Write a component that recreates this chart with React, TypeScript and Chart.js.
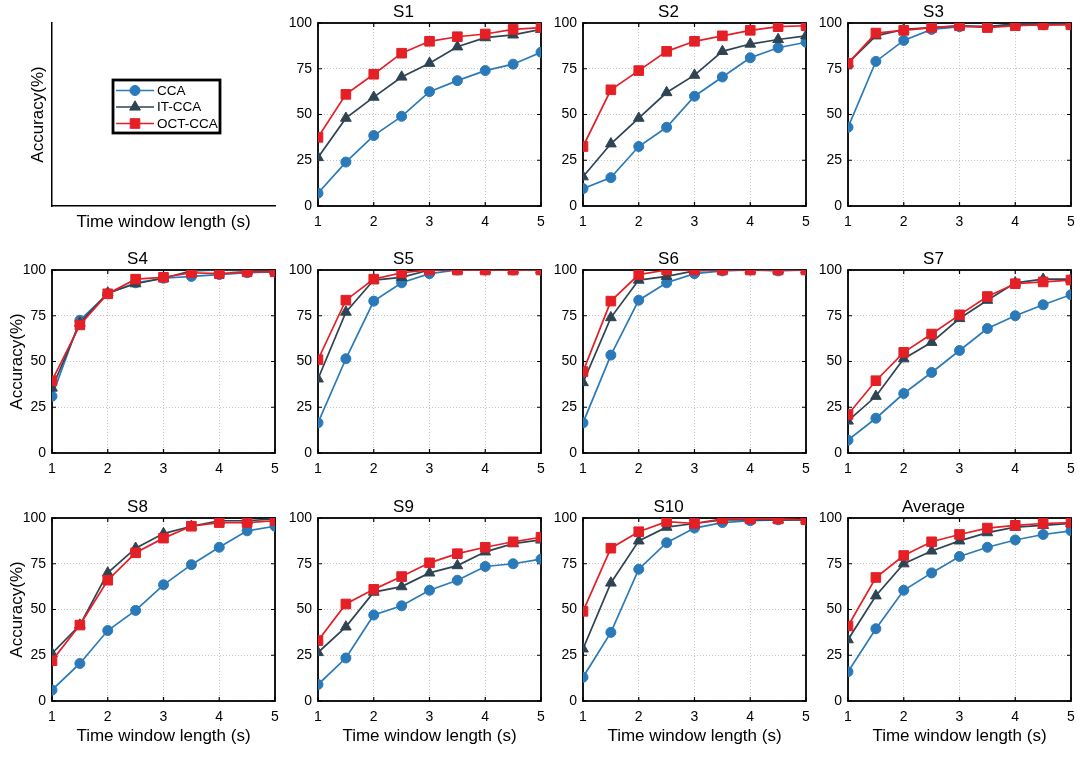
import React, { useEffect, useRef } from "react";
import { Chart, registerables } from "chart.js";
import { drawPoint } from "chart.js/helpers";

Chart.register(...registerables);
Chart.defaults.font.family = '"Liberation Sans", Arial, Helvetica, sans-serif';
Chart.defaults.color = "#000";

// time window lengths (s) and axis ticks
const windowLengths = [1, 1.5, 2, 2.5, 3, 3.5, 4, 4.5, 5];
const xTicks = [1, 2, 3, 4, 5];
const yTicks = [0, 25, 50, 75, 100];
const methods = ["CCA", "IT-CCA", "OCT-CCA"];

// accuracy (%) per subject and method
const s1Cca = [7, 24, 38.5, 49, 62.5, 68.5, 74, 77.5, 84];
const s1It = [26.5, 48, 59.5, 70.5, 78, 87, 92, 93.5, 96.5];
const s1Oct = [37.5, 61, 72, 83.5, 90, 92.5, 94, 96.5, 97.5];

const s2Cca = [9.5, 15.5, 32.5, 43, 60, 70.5, 81, 86.5, 89.5];
const s2It = [16, 34, 48, 62, 71.5, 84.5, 88.5, 91, 93];
const s2Oct = [32.5, 63.5, 74, 84.5, 90, 93, 96, 98, 98.5];

const s3Cca = [43, 79, 90.5, 96.5, 98, 98, 99, 99, 99.5];
const s3It = [78, 93, 96.5, 97.5, 98.5, 98, 99.5, 99.5, 99.5];
const s3Oct = [78, 94.5, 96, 97.5, 98.5, 97.5, 98.5, 99, 99];

const s4Cca = [31, 72.5, 87, 93, 95.5, 96.5, 97.5, 98.5, 99];
const s4It = [35.5, 71, 87.5, 92.5, 95.5, 99.5, 100, 99.5, 99.5];
const s4Oct = [39.5, 70, 87, 95, 96, 98.5, 98, 99, 99];

const s5Cca = [16.5, 51.5, 83, 93, 98, 100, 100, 100, 100];
const s5It = [40.5, 77, 94.5, 96, 100, 100, 100, 100, 100];
const s5Oct = [51, 83.5, 95, 98.5, 100, 100, 100, 100, 100];

const s6Cca = [16.5, 53.5, 83.5, 93, 98, 99.5, 100, 99.5, 100];
const s6It = [38.5, 74, 94.5, 96.5, 99.5, 100, 100, 100, 100];
const s6Oct = [44.5, 83, 97.5, 100, 100, 100, 100, 100, 100];

const s7Cca = [7, 19, 32.5, 44, 56, 68, 75, 81, 86.5];
const s7It = [17.5, 31, 51.5, 60.5, 73.5, 83.5, 93, 95, 95];
const s7Oct = [21, 39.5, 55, 65, 75.5, 85.5, 92.5, 93.5, 94.5];

const s8Cca = [6, 20.5, 38.5, 49.5, 63.5, 74.5, 84, 93, 95.5];
const s8It = [26, 41.5, 70, 83.5, 91.5, 95.5, 98.5, 98.5, 99.5];
const s8Oct = [22, 41.5, 66, 81, 89, 95.5, 97.5, 97.5, 98.5];

const s9Cca = [9, 23.5, 47, 52, 60.5, 66, 73.5, 75, 77.5];
const s9It = [26.5, 40.5, 59.5, 62.5, 70, 74, 81.5, 86, 88];
const s9Oct = [33, 53, 61, 68, 75.5, 80.5, 84, 87, 89.5];

const s10Cca = [13, 37.5, 72, 86.5, 94.5, 97.5, 98.5, 99, 99];
const s10It = [28.5, 64.5, 87.5, 95, 97, 99, 99, 99, 99];
const s10Oct = [49, 83.5, 92.5, 98, 97, 99.5, 99.5, 99.5, 99];

const avgCca = [16, 39.5, 60.5, 70, 79, 84, 88, 91, 93];
const avgIt = [33.5, 57.5, 75, 82, 87.5, 92, 95, 96, 97];
const avgOct = [41, 67.5, 79.5, 87, 91, 94.5, 96, 97, 97.5];

const colors = ["#2a7ab9", "#2f4452", "#e41f26"];
const markers = ["circle", "triangle", "rect"];
const markerRadius = [5, 6.2, 6.8];

const Y_LABEL = "Accuracy(%)";
const X_LABEL = "Time window length (s)";

// layout of the 3 x 4 grid (plot areas, page pixels)
const colLeft = [52, 318, 583, 848];
const rowTop = [23, 270, 518];
const plotW = 223;
const plotH = 183;
const padL = 52;
const padT = 23;
const padR = 14;
const padB = 48;

const boxPlugin = {
  id: "matlabBox",
  beforeDatasetsDraw(chart: any) {
    const { ctx, chartArea: a, scales } = chart;
    ctx.save();
    ctx.strokeStyle = "#000";
    ctx.lineWidth = 1.2;
    ctx.beginPath();
    xTicks.forEach((v) => {
      const px = scales.x.getPixelForValue(v);
      ctx.moveTo(px, a.bottom);
      ctx.lineTo(px, a.bottom - 4);
      ctx.moveTo(px, a.top);
      ctx.lineTo(px, a.top + 4);
    });
    yTicks.forEach((v) => {
      const py = scales.y.getPixelForValue(v);
      ctx.moveTo(a.left, py);
      ctx.lineTo(a.left + 4, py);
      ctx.moveTo(a.right, py);
      ctx.lineTo(a.right - 4, py);
    });
    ctx.stroke();
    ctx.lineWidth = 1.8;
    ctx.strokeRect(a.left, a.top, a.right - a.left, a.bottom - a.top);
    ctx.restore();
  },
};

// legend box drawn inside the empty first axes
const legendPlugin = {
  id: "boxLegend",
  afterDraw(chart: any) {
    const { ctx, chartArea: a } = chart;
    const left = a.left + 61;
    const top = a.top + 57;
    const w = 107;
    const h = 53;
    ctx.save();
    ctx.fillStyle = "#fff";
    ctx.fillRect(left, top, w, h);
    ctx.strokeStyle = "#000";
    ctx.lineWidth = 2.8;
    ctx.strokeRect(left, top, w, h);
    ctx.font = '13.5px "Liberation Sans", Arial, sans-serif';
    ctx.textBaseline = "middle";
    chart.data.datasets.forEach((ds: any, k: number) => {
      const y = top + 10.5 + k * 16.5;
      ctx.strokeStyle = ds.borderColor;
      ctx.lineWidth = 1.6;
      ctx.beginPath();
      ctx.moveTo(left + 3, y);
      ctx.lineTo(left + 41, y);
      ctx.stroke();
      ctx.fillStyle = ds.backgroundColor;
      ctx.lineWidth = 1;
      drawPoint(ctx, { pointStyle: ds.pointStyle, radius: ds.pointRadius, borderWidth: 1, rotation: 0 } as any, left + 22, y);
      ctx.fillStyle = "#000";
      ctx.fillText(ds.label, left + 44, y + 0.5);
    });
    ctx.restore();
  },
};

function makeDatasets(series: number[][]) {
  return series.map((values, k) => ({
    label: methods[k],
    data: windowLengths.map((x, i) => ({ x, y: values[i] })),
    borderColor: colors[k],
    backgroundColor: colors[k],
    pointStyle: markers[k],
    pointRadius: markerRadius[k],
    pointBorderWidth: 1,
    borderWidth: 1.7,
    tension: 0,
    order: series.length - k,
  }));
}

type PanelProps = {
  title?: string;
  series: number[][];
  row: number;
  col: number;
  empty?: boolean;
};

function Panel({ title, series, row, col, empty }: PanelProps) {
  const canvasRef = useRef<HTMLCanvasElement>(null);

  useEffect(() => {
    const canvas = canvasRef.current;
    if (!canvas) return;
    const showYLabel = col === 0;
    const showXLabel = row === 2 || empty;
    const yTitle = {
      display: showYLabel,
      text: Y_LABEL,
      font: { size: 17, lineHeight: 1.2 },
      padding: { top: empty ? 27.8 : 6.8, bottom: 0 },
    };
    const xTitle = {
      display: !!showXLabel,
      text: X_LABEL,
      font: { size: 17, lineHeight: 1.2 },
      padding: { top: 0, bottom: empty ? 21.8 : 2.8 },
    };
    const chart = new Chart(canvas, {
      type: "line",
      data: { datasets: makeDatasets(series) as any },
      options: {
        animation: false,
        responsive: false,
        events: [],
        layout: { padding: { left: 0, top: empty ? padT : 0, right: padR, bottom: 0 } },
        plugins: {
          legend: { display: false },
          tooltip: { enabled: false },
          title: {
            display: !empty,
            text: title || "",
            font: { size: 17, weight: "normal", lineHeight: 1.2 },
            padding: { top: 2.6, bottom: 0 },
          },
        },
        scales: {
          x: {
            type: "linear",
            min: 1,
            max: 5,
            afterBuildTicks: (s: any) => {
              s.ticks = xTicks.map((value) => ({ value }));
            },
            afterFit: (s: any) => {
              s.height = padB;
            },
            ticks: { display: !empty, font: { size: 14 }, padding: 8, maxRotation: 0 },
            grid: {
              display: !empty,
              color: "#c4c4c4",
              lineWidth: 1,
              drawTicks: false,
            },
            border: empty
              ? { display: true, color: "#000", width: 1.5 }
              : { display: false, dash: [1, 2] },
            title: xTitle,
          },
          y: {
            min: 0,
            max: 100,
            afterBuildTicks: (s: any) => {
              s.ticks = yTicks.map((value) => ({ value }));
            },
            afterFit: (s: any) => {
              s.width = padL;
            },
            ticks: { display: !empty, font: { size: 14 }, padding: 6 },
            grid: {
              display: !empty,
              color: "#c4c4c4",
              lineWidth: 1,
              drawTicks: false,
            },
            border: empty
              ? { display: true, color: "#000", width: 1.5 }
              : { display: false, dash: [1, 2] },
            title: yTitle,
          },
        },
      } as any,
      plugins: [empty ? legendPlugin : boxPlugin],
    });
    return () => chart.destroy();
  }, [title, series, row, col, empty]);

  const width = padL + plotW + padR;
  const height = padT + plotH + padB;
  return (
    <canvas
      ref={canvasRef}
      width={width}
      height={height}
      style={{
        position: "absolute",
        left: colLeft[col] - padL,
        top: rowTop[row] - padT,
        width,
        height,
      }}
    />
  );
}

const panels = [
  { title: "S1", series: [s1Cca, s1It, s1Oct] },
  { title: "S2", series: [s2Cca, s2It, s2Oct] },
  { title: "S3", series: [s3Cca, s3It, s3Oct] },
  { title: "S4", series: [s4Cca, s4It, s4Oct] },
  { title: "S5", series: [s5Cca, s5It, s5Oct] },
  { title: "S6", series: [s6Cca, s6It, s6Oct] },
  { title: "S7", series: [s7Cca, s7It, s7Oct] },
  { title: "S8", series: [s8Cca, s8It, s8Oct] },
  { title: "S9", series: [s9Cca, s9It, s9Oct] },
  { title: "S10", series: [s10Cca, s10It, s10Oct] },
  { title: "Average", series: [avgCca, avgIt, avgOct] },
];

const legendSeries: number[][] = [[], [], []];

export default function App() {
  return (
    <div
      style={{
        position: "absolute",
        left: 0,
        top: 0,
        width: 1084,
        height: 759,
        background: "#fff",
        overflow: "hidden",
      }}
    >
      <Panel series={legendSeries} row={0} col={0} empty />
      {panels.map((p, i) => (
        <Panel key={p.title} title={p.title} series={p.series} row={Math.floor((i + 1) / 4)} col={(i + 1) % 4} />
      ))}
    </div>
  );
}
